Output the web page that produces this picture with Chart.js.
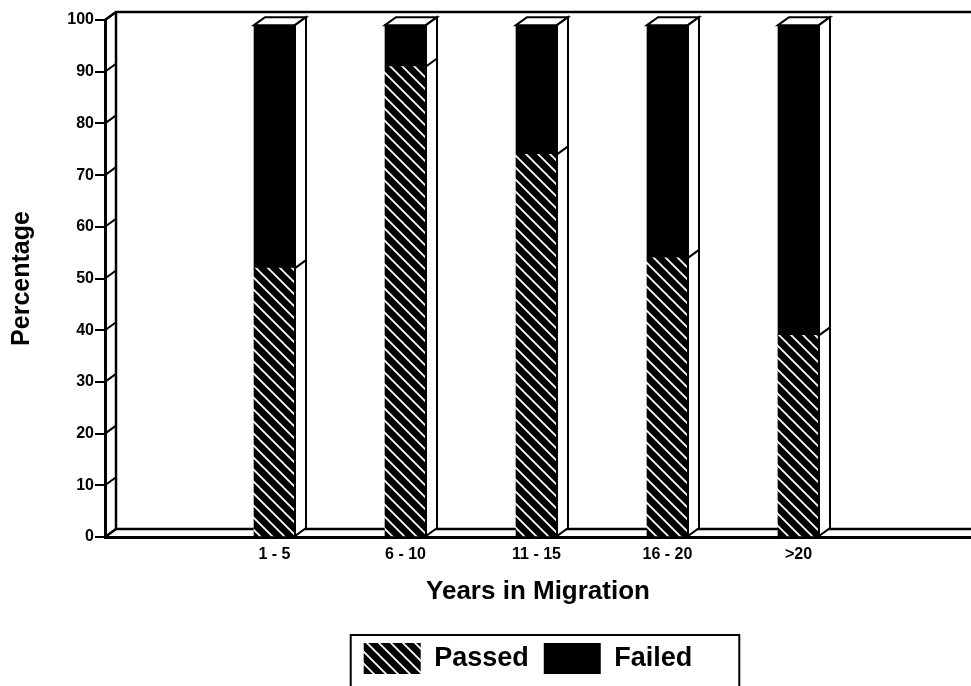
<!DOCTYPE html>
<html>
<head>
<meta charset="utf-8">
<script src="https://cdn.jsdelivr.net/npm/chart.js@4.4.1/dist/chart.umd.min.js"></script>
<style>
  html, body { margin: 0; padding: 0; background: #fff; }
  canvas { display: block; }
</style>
</head>
<body>
<canvas id="chart" width="971" height="686"></canvas>
<script>
const categories = ['1 - 5', '6 - 10', '11 - 15', '16 - 20', '>20'];
const passed = [52, 91, 74, 54, 39];
const failed = [47, 8, 25, 45, 60];
const yTickValues = [0, 10, 20, 30, 40, 50, 60, 70, 80, 90, 100];

const FONT = '"Liberation Sans", Arial, sans-serif';
const DX = 11, DY = 8; // depth of the fake 3d box

const canvas = document.getElementById('chart');
const ctx = canvas.getContext('2d');

// black fill with white diagonal lines, like the scanned hatch
function makeHatch() {
    const n = 12;
    const c = document.createElement('canvas');
    c.width = n; c.height = n;
    const g = c.getContext('2d');
    g.fillStyle = '#000';
    g.fillRect(0, 0, n, n);
    g.strokeStyle = '#fff';
    g.lineWidth = 1.8;
    g.beginPath();
    g.moveTo(-1, -1); g.lineTo(n + 1, n + 1);
    g.moveTo(-2, n - 2); g.lineTo(2, n + 2);
    g.moveTo(n - 2, -2); g.lineTo(n + 2, 2);
    g.stroke();
    return ctx.createPattern(c, 'repeat');
}
const hatch = makeHatch();

function poly(c, pts) {
    c.beginPath();
    c.moveTo(pts[0][0], pts[0][1]);
    for (let i = 1; i < pts.length; i++) c.lineTo(pts[i][0], pts[i][1]);
    c.closePath();
    c.fill();
    c.stroke();
}

const depth3d = {
    id: 'depth3d',
    afterLayout(chart) {
        // legend sits a little left of the plot centre in the original
        chart.legend.left -= 10;
        chart.legend.right -= 10;
    },
    beforeDatasetsDraw(chart) {
        const c = chart.ctx, a = chart.chartArea, y = chart.scales.y;
        c.save();
        c.strokeStyle = '#000';
        c.lineWidth = 2.5;
        c.beginPath();
        c.moveTo(a.left + DX, a.top - DY); c.lineTo(a.left + DX, a.bottom - DY);
        c.moveTo(a.left, a.top); c.lineTo(a.left + DX, a.top - DY); c.lineTo(a.right, a.top - DY);
        c.moveTo(a.left, a.bottom); c.lineTo(a.left + DX, a.bottom - DY); c.lineTo(a.right, a.bottom - DY);
        c.stroke();
        c.lineWidth = 2;
        c.beginPath();
        y.ticks.forEach(t => {
            const py = y.getPixelForValue(t.value);
            c.moveTo(a.left, py);
            c.lineTo(a.left + DX, py - DY);
        });
        c.stroke();
        c.restore();
    },
    afterDatasetsDraw(chart) {
        const c = chart.ctx;
        const low = chart.getDatasetMeta(0).data;
        const high = chart.getDatasetMeta(1).data;
        c.save();
        c.strokeStyle = '#000';
        c.fillStyle = '#fff';
        c.lineWidth = 2;
        high.forEach((bar, i) => {
            const w = bar.width, l = bar.x - w / 2, r = bar.x + w / 2;
            const top = bar.y, bot = low[i].base;
            poly(c, [[l, top], [l + DX, top - DY], [r + DX, top - DY], [r, top]]);
            poly(c, [[r, top], [r + DX, top - DY], [r + DX, bot - DY], [r, bot]]);
            c.beginPath();
            c.moveTo(r, low[i].y);
            c.lineTo(r + DX, low[i].y - DY);
            c.stroke();
        });
        c.restore();
    },
    afterDraw(chart) {
        const hb = chart.legend.legendHitBoxes;
        if (!hb || !hb.length) return;
        const first = hb[0], last = hb[hb.length - 1];
        const c = chart.ctx;
        c.save();
        c.strokeStyle = '#000';
        c.lineWidth = 2;
        const x0 = first.left - 13, x1 = last.left + last.width + 47;
        c.strokeRect(x0, first.top - 8, x1 - x0, 200);
        c.restore();
    }
};

new Chart(ctx, {
    type: 'bar',
    data: {
        datasets: [{
            label: 'Passed',
            data: passed.map((v, i) => ({ x: i + 1, y: v })),
            backgroundColor: hatch,
            borderWidth: 0,
            barThickness: 41
        }, {
            label: 'Failed',
            data: failed.map((v, i) => ({ x: i + 1, y: v })),
            backgroundColor: '#000',
            borderWidth: 0,
            barThickness: 41
        }]
    },
    options: {
        responsive: false,
        devicePixelRatio: 1,
        animation: false,
        layout: { padding: { top: 20, right: 0, bottom: 2, left: 0 } },
        plugins: {
            tooltip: { enabled: false },
            legend: {
                position: 'bottom',
                fullSize: false,
                labels: {
                    color: '#000',
                    boxWidth: 57,
                    boxHeight: 31,
                    padding: 15,
                    font: { family: FONT, size: 27, weight: 'bold' }
                }
            }
        },
        scales: {
            x: {
                type: 'linear',
                stacked: true,
                offset: false,
                min: -0.294,
                max: 6.317,
                afterBuildTicks: s => { s.ticks = categories.map((c, i) => ({ value: i + 1 })); },
                afterFit: s => { s.height = 91; },
                ticks: {
                    color: '#000',
                    padding: 8,
                    maxRotation: 0,
                    autoSkip: false,
                    font: { family: FONT, size: 16, weight: 'bold' },
                    callback: v => categories[v - 1] ?? ''
                },
                grid: { display: false, drawTicks: false },
                border: { display: true, color: '#000', width: 3 },
                title: {
                    display: true,
                    text: 'Years in Migration',
                    color: '#000',
                    padding: { top: 0, bottom: 21 },
                    font: { family: FONT, size: 26, weight: 'bold' }
                }
            },
            y: {
                stacked: true,
                min: 0,
                max: 100,
                afterBuildTicks: s => { s.ticks = yTickValues.map(v => ({ value: v })); },
                afterFit: s => { s.width = 105; },
                ticks: {
                    color: '#000',
                    padding: 1,
                    font: { family: FONT, size: 16, weight: 'bold' }
                },
                grid: { drawOnChartArea: false, drawTicks: true, tickLength: 10, color: '#000', lineWidth: 2 },
                border: { display: true, color: '#000', width: 3 },
                title: {
                    display: true,
                    text: 'Percentage',
                    color: '#000',
                    padding: { top: 7, bottom: 0 },
                    font: { family: FONT, size: 25, weight: 'bold' }
                }
            }
        }
    },
    plugins: [depth3d]
});
</script>
</body>
</html>
